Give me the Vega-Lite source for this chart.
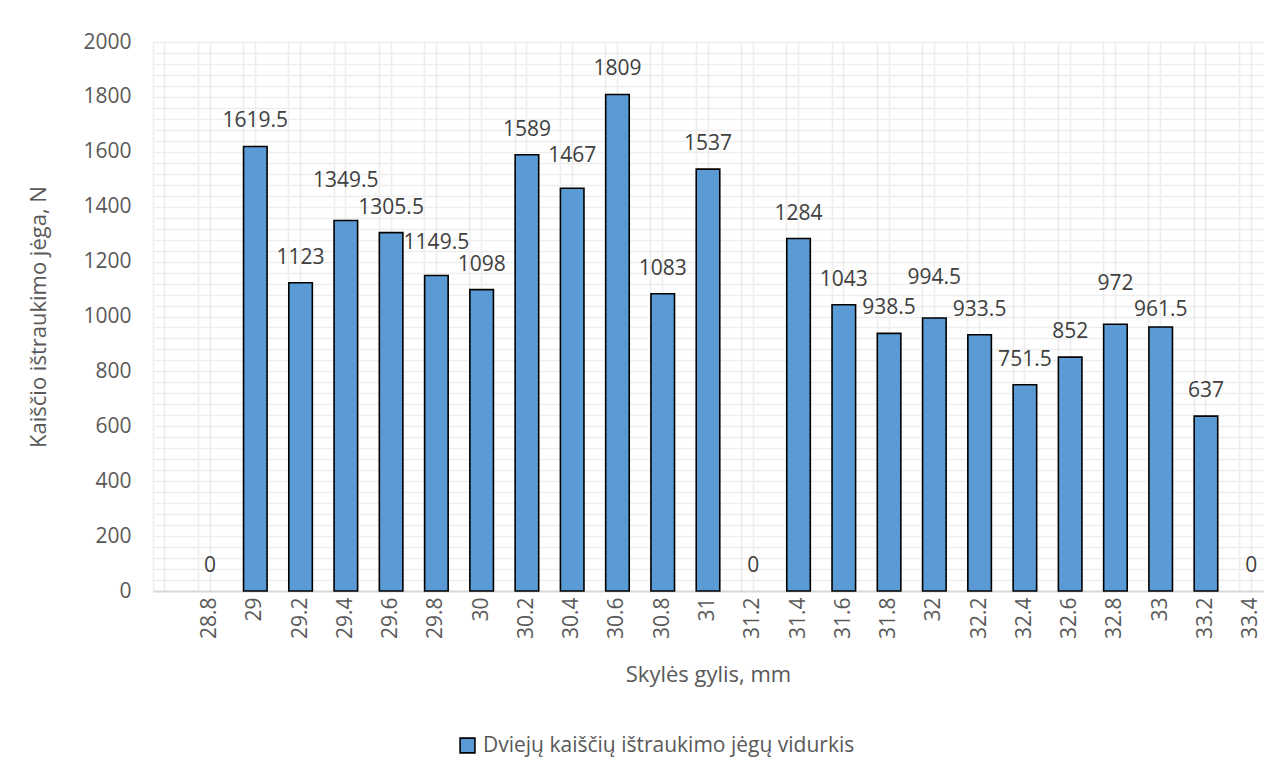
{
  "$schema": "https://vega.github.io/schema/vega-lite/v6.json",
  "width": 1110,
  "height": 549,
  "autosize": "none",
  "padding": {"left": 153, "top": 42, "right": 20, "bottom": 185},
  "background": "white",
  "config": {
    "view": {"stroke": null},
    "font": "Open Sans",
    "axis": {"labelFont": "Open Sans", "titleFont": "Open Sans", "labelColor": "#595959", "titleColor": "#595959", "titleFontWeight": "normal"}
  },
  "data": {
    "values": [
      {"x": "28.8", "v": 0, "s": "Dviejų kaiščių ištraukimo jėgų vidurkis"},
      {"x": "29", "v": 1619.5, "s": "Dviejų kaiščių ištraukimo jėgų vidurkis"},
      {"x": "29.2", "v": 1123, "s": "Dviejų kaiščių ištraukimo jėgų vidurkis"},
      {"x": "29.4", "v": 1349.5, "s": "Dviejų kaiščių ištraukimo jėgų vidurkis"},
      {"x": "29.6", "v": 1305.5, "s": "Dviejų kaiščių ištraukimo jėgų vidurkis"},
      {"x": "29.8", "v": 1149.5, "s": "Dviejų kaiščių ištraukimo jėgų vidurkis"},
      {"x": "30", "v": 1098, "s": "Dviejų kaiščių ištraukimo jėgų vidurkis"},
      {"x": "30.2", "v": 1589, "s": "Dviejų kaiščių ištraukimo jėgų vidurkis"},
      {"x": "30.4", "v": 1467, "s": "Dviejų kaiščių ištraukimo jėgų vidurkis"},
      {"x": "30.6", "v": 1809, "s": "Dviejų kaiščių ištraukimo jėgų vidurkis"},
      {"x": "30.8", "v": 1083, "s": "Dviejų kaiščių ištraukimo jėgų vidurkis"},
      {"x": "31", "v": 1537, "s": "Dviejų kaiščių ištraukimo jėgų vidurkis"},
      {"x": "31.2", "v": 0, "s": "Dviejų kaiščių ištraukimo jėgų vidurkis"},
      {"x": "31.4", "v": 1284, "s": "Dviejų kaiščių ištraukimo jėgų vidurkis"},
      {"x": "31.6", "v": 1043, "s": "Dviejų kaiščių ištraukimo jėgų vidurkis"},
      {"x": "31.8", "v": 938.5, "s": "Dviejų kaiščių ištraukimo jėgų vidurkis"},
      {"x": "32", "v": 994.5, "s": "Dviejų kaiščių ištraukimo jėgų vidurkis"},
      {"x": "32.2", "v": 933.5, "s": "Dviejų kaiščių ištraukimo jėgų vidurkis"},
      {"x": "32.4", "v": 751.5, "s": "Dviejų kaiščių ištraukimo jėgų vidurkis"},
      {"x": "32.6", "v": 852, "s": "Dviejų kaiščių ištraukimo jėgų vidurkis"},
      {"x": "32.8", "v": 972, "s": "Dviejų kaiščių ištraukimo jėgų vidurkis"},
      {"x": "33", "v": 961.5, "s": "Dviejų kaiščių ištraukimo jėgų vidurkis"},
      {"x": "33.2", "v": 637, "s": "Dviejų kaiščių ištraukimo jėgų vidurkis"},
      {"x": "33.4", "v": 0, "s": "Dviejų kaiščių ištraukimo jėgų vidurkis"}
    ]
  },
  "encoding": {
    "x": {
      "field": "x",
      "type": "ordinal",
      "sort": null,
      "scale": {
        "domain": [" ", "28.8", "29", "29.2", "29.4", "29.6", "29.8", "30", "30.2", "30.4", "30.6", "30.8", "31", "31.2", "31.4", "31.6", "31.8", "32", "32.2", "32.4", "32.6", "32.8", "33", "33.2", "33.4"],
        "paddingInner": 0.48,
        "paddingOuter": 0
      }
    },
    "y": {
      "field": "v",
      "type": "quantitative",
      "scale": {"domain": [0, 2000], "nice": false},
      "axis": {
        "title": "Kaiščio ištraukimo jėga, N",
        "titleFontSize": 22,
        "titlePadding": 32,
        "labelFontSize": 21,
        "labelPadding": 22,
        "values": [0, 40, 80, 120, 160, 200, 240, 280, 320, 360, 400, 440, 480, 520, 560, 600, 640, 680, 720, 760, 800, 840, 880, 920, 960, 1000, 1040, 1080, 1120, 1160, 1200, 1240, 1280, 1320, 1360, 1400, 1440, 1480, 1520, 1560, 1600, 1640, 1680, 1720, 1760, 1800, 1840, 1880, 1920, 1960, 2000],
        "labelExpr": "datum.value % 200 === 0 ? datum.label : ''",
        "format": "d",
        "ticks": false,
        "domain": false,
        "grid": true,
        "gridColor": "#EDEDED",
        "gridWidth": 1.6
      }
    }
  },
  "layer": [
    {
      "mark": {"type": "bar", "stroke": "#000000", "strokeWidth": 1.6},
      "encoding": {
        "x": {
          "field": "x",
          "type": "ordinal",
          "sort": null,
          "axis": {
            "title": null,
            "labels": false,
            "ticks": false,
            "domain": false,
            "grid": true,
            "bandPosition": 0.5,
            "gridColor": "#EDEDED",
            "gridWidth": 1.6
          }
        },
        "opacity": {"condition": {"test": "datum.v == 0", "value": 0}, "value": 1},
        "color": {
          "field": "s",
          "type": "nominal",
          "scale": {"range": ["#5B9BD5"]},
          "legend": {
            "title": null,
            "orient": "none",
            "legendX": 304,
            "legendY": 693,
            "symbolType": "square",
            "symbolSize": 220,
            "symbolOpacity": 1,
            "symbolStrokeColor": "#000000",
            "symbolStrokeWidth": 1.6,
            "labelFontSize": 21,
            "labelColor": "#595959",
            "labelFont": "Open Sans",
            "labelLimit": 600,
            "labelOffset": 5
          }
        }
      }
    },
    {
      "transform": [{"filter": "datum.v != 1349.5 && datum.v != 994.5 && datum.v != 1149.5 && datum.v != 972 && datum.v != 961.5 && datum.v != 1467"}],
      "mark": {"type": "text", "baseline": "bottom", "dy": -15, "fontSize": 21, "color": "#404040", "font": "Open Sans"},
      "encoding": {
        "x": {
          "field": "x",
          "type": "ordinal",
          "sort": null,
          "axis": {
            "orient": "bottom",
            "title": "Skylės gylis, mm",
            "titleFontSize": 22,
            "titlePadding": 26,
            "labelFontSize": 21,
            "labelAngle": -90,
            "labelPadding": 6,
            "ticks": false,
            "domain": true,
            "domainColor": "#D9D9D9",
            "domainWidth": 2,
            "grid": true,
            "bandPosition": 0,
            "gridColor": "#EDEDED",
            "gridWidth": 1.6
          }
        },
        "text": {"field": "v", "type": "quantitative"}
      }
    },
    {
      "transform": [{"filter": "datum.v == 1349.5 || datum.v == 994.5 || datum.v == 972"}],
      "mark": {"type": "text", "baseline": "bottom", "dy": -30, "fontSize": 21, "color": "#404040", "font": "Open Sans"},
      "encoding": {
        "x": {"field": "x", "type": "ordinal", "sort": null, "axis": null},
        "text": {"field": "v", "type": "quantitative"}
      }
    },
    {
      "transform": [{"filter": "datum.v == 1149.5 || datum.v == 1467"}],
      "mark": {"type": "text", "baseline": "bottom", "dy": -22, "fontSize": 21, "color": "#404040", "font": "Open Sans"},
      "encoding": {
        "x": {"field": "x", "type": "ordinal", "sort": null, "axis": null},
        "text": {"field": "v", "type": "quantitative"}
      }
    },
    {
      "transform": [{"filter": "datum.v == 961.5"}],
      "mark": {"type": "text", "baseline": "bottom", "dy": -7, "fontSize": 21, "color": "#404040", "font": "Open Sans"},
      "encoding": {
        "x": {"field": "x", "type": "ordinal", "sort": null, "axis": null},
        "text": {"field": "v", "type": "quantitative"}
      }
    }
  ],
  "resolve": {"axis": {"x": "independent"}}
}
